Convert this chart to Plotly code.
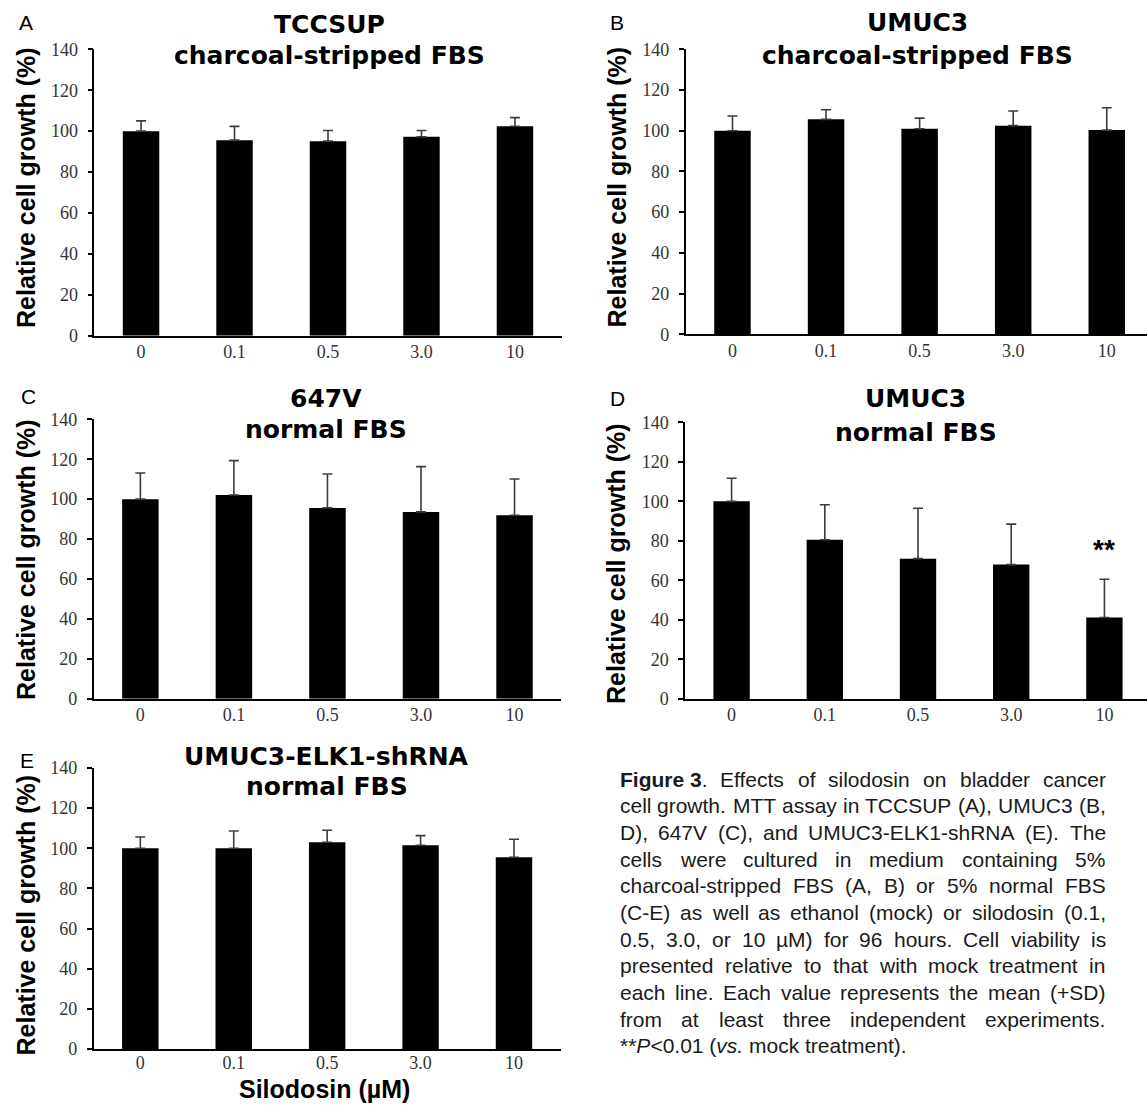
import plotly.graph_objects as go

W, H = 1147, 1106

# ---------------- data ----------------
doses = ["0", "0.1", "0.5", "3.0", "10"]

mean_tccsup_cs = [100.0, 95.6, 95.1, 97.2, 102.4]
sd_tccsup_cs = [5.0, 6.7, 5.2, 3.1, 4.2]

mean_umuc3_cs = [100.0, 105.6, 101.0, 102.5, 100.3]
sd_umuc3_cs = [7.2, 4.7, 5.2, 7.2, 11.0]

mean_647v_n = [100.0, 102.1, 95.6, 93.6, 91.9]
sd_647v_n = [13.1, 17.2, 17.0, 22.7, 18.2]

mean_umuc3_n = [100.0, 80.6, 71.0, 68.0, 41.2]
sd_umuc3_n = [11.7, 17.7, 25.5, 20.5, 19.4]

mean_elk1_n = [100.0, 100.0, 103.0, 101.5, 95.5]
sd_elk1_n = [5.6, 8.6, 6.0, 4.8, 9.0]

titles_line1 = ["TCCSUP", "UMUC3", "647V", "UMUC3", "UMUC3-ELK1-shRNA"]
titles_line2 = ["charcoal-stripped FBS", "charcoal-stripped FBS", "normal FBS",
                "normal FBS", "normal FBS"]
letters = ["A", "B", "C", "D", "E"]
y_title = "Relative cell growth (%)"
x_title = "Silodosin (µM)"
sig_label = "**"
sig_index = 4
sig_value = 75.5

caption_lines = [
    "<b>Figure 3</b>. Effects of silodosin on bladder cancer",
    "cell growth. MTT assay in TCCSUP (A), UMUC3 (B,",
    "D), 647V (C), and UMUC3-ELK1-shRNA (E). The",
    "cells were cultured in medium containing 5%",
    "charcoal-stripped FBS (A, B) or 5% normal FBS",
    "(C-E) as well as ethanol (mock) or silodosin (0.1,",
    "0.5, 3.0, or 10 µM) for 96 hours. Cell viability is",
    "presented relative to that with mock treatment in",
    "each line. Each value represents the mean (+SD)",
    "from at least three independent experiments.",
    "**<i>P</i>&lt;0.01 (<i>vs.</i> mock treatment).",
]

means = [mean_tccsup_cs, mean_umuc3_cs, mean_647v_n, mean_umuc3_n, mean_elk1_n]
sds = [sd_tccsup_cs, sd_umuc3_cs, sd_647v_n, sd_umuc3_n, sd_elk1_n]

# ---------------- layout geometry (pixels) ----------------
panels = [
    dict(x0=94.3, x1=561.7, ytop=49.3, ybot=335.7, xr=4.5, xso=-1,
         t1=(329.5, 24.0), t2=(329.5, 55.5), let=(26, 22.5), yl=(26, 188)),
    dict(x0=685.7, x1=1147.0, ytop=49.3, ybot=334.3, xr=4.43, xso=-1,
         t1=(917.0, 22.5), t2=(917.0, 55.0), let=(617, 22.5), yl=(616, 187.5)),
    dict(x0=93.6, x1=561.3, ytop=419.3, ybot=698.7, xr=4.5, xso=-1,
         t1=(325.5, 398.7), t2=(325.5, 429.2), let=(28.6, 396.7), yl=(26, 560)),
    dict(x0=685.0, x1=1147.0, ytop=422.3, ybot=699.0, xr=4.457, xso=-1,
         t1=(915.7, 399.0), t2=(915.7, 432.0), let=(617, 398.3), yl=(616, 564)),
    dict(x0=93.6, x1=560.7, ytop=768.0, ybot=1049.0, xr=4.5, xso=-3,
         t1=(326.8, 756.7), t2=(326.8, 786.7), let=(26.8, 760.8), yl=(25.5, 915)),
]

TITLE_FONT = dict(family="DejaVu Sans", size=25, color="black")
YLAB_FONT = dict(family="Liberation Sans", size=25, color="black")
TICK_FONT = dict(family="Liberation Serif", size=18, color="#333333")
LET_FONT = dict(family="Liberation Sans", size=21, color="black")
CAP_FONT_SIZE = 21

fig = go.Figure()
layout = dict(width=W, height=H,
              margin=dict(l=0, r=0, t=0, b=0, pad=0, autoexpand=False),
              paper_bgcolor="white", plot_bgcolor="white", showlegend=False)
annotations = []


def px(x):
    return x / W


def py(y):
    return 1 - y / H


def ann(x, y, text, font, **kw):
    d = dict(x=px(x), y=py(y), xref="paper", yref="paper", text=text,
             showarrow=False, font=font, xanchor="center", yanchor="middle")
    d.update(kw)
    annotations.append(d)


for i, p in enumerate(panels):
    sfx = "" if i == 0 else str(i + 1)
    fig.add_trace(go.Bar(
        x=doses, y=means[i], width=0.39,
        marker=dict(color="black", line=dict(width=0)),
        error_y=dict(type="data", symmetric=False, array=sds[i],
                     arrayminus=[0] * len(sds[i]),
                     color="#3c3c3c", thickness=1.6, width=5),
        xaxis="x" + sfx, yaxis="y" + sfx, hoverinfo="x+y"))
    layout["xaxis" + sfx] = dict(
        domain=[px(p["x0"]), px(p["x1"])], anchor="y" + sfx,
        type="category", range=[-0.5, p["xr"]], automargin=False,
        showline=True, linecolor="black", linewidth=1.5,
        ticks="", showgrid=False, zeroline=False,
        tickfont=TICK_FONT, ticklabelstandoff=p["xso"])
    layout["yaxis" + sfx] = dict(
        domain=[py(p["ybot"]), py(p["ytop"])], anchor="x" + sfx,
        range=[0, 140], tick0=0, dtick=20, automargin=False,
        showline=True, linecolor="black", linewidth=1.5,
        ticks="outside", ticklen=5, tickwidth=1.5, tickcolor="black",
        showgrid=False, zeroline=False, tickfont=TICK_FONT,
        ticklabelstandoff=6)
    ann(*p["t1"], "<b>%s</b>" % titles_line1[i], TITLE_FONT)
    ann(*p["t2"], "<b>%s</b>" % titles_line2[i], TITLE_FONT)
    ann(*p["let"], letters[i], LET_FONT)
    ann(*p["yl"], "<b>%s</b>" % y_title, YLAB_FONT, textangle=-90)

# significance mark on panel D
annotations.append(dict(x=sig_index, y=sig_value, xref="x4", yref="y4",
                        text="<b>%s</b>" % sig_label, showarrow=False,
                        font=dict(family="Liberation Sans", size=28, color="black"),
                        xanchor="center", yanchor="middle"))

# x title under panel E
ann(324.6, 1089.0, "<b>%s</b>" % x_title, YLAB_FONT)

# ---------------- caption with justification ----------------
REG = {' ': 278, '%': 889, '(': 333, ')': 333, '*': 389, '+': 584, ',': 278,
       '-': 333, '.': 278, '<': 584, 'µ': 556,
       'A': 667, 'B': 667, 'C': 722, 'D': 722, 'E': 667, 'F': 611, 'G': 778,
       'H': 722, 'I': 278, 'J': 500, 'K': 667, 'L': 556, 'M': 833, 'N': 722,
       'O': 778, 'P': 667, 'Q': 778, 'R': 722, 'S': 667, 'T': 611, 'U': 722,
       'V': 667, 'W': 944, 'X': 667, 'Y': 667, 'Z': 611,
       'a': 556, 'b': 556, 'c': 500, 'd': 556, 'e': 556, 'f': 278, 'g': 556,
       'h': 556, 'i': 222, 'j': 222, 'k': 500, 'l': 222, 'm': 833, 'n': 556,
       'o': 556, 'p': 556, 'q': 556, 'r': 333, 's': 500, 't': 278, 'u': 556,
       'v': 500, 'w': 722, 'x': 500, 'y': 500, 'z': 500}
for d in "0123456789":
    REG[d] = 556
BOLD = dict(REG)
BOLD.update({'i': 278, 'g': 611, 'u': 611, 'r': 389})


def width(s, size):
    import re
    total = 0
    bold = False
    for part in re.split(r"(<[^>]+>)", s):
        if part == "<b>":
            bold = True
            continue
        if part == "</b>":
            bold = False
            continue
        if part.startswith("<"):
            continue
        tbl = BOLD if bold else REG
        for ch in part.replace("&lt;", "<"):
            total += tbl.get(ch, 556)
    return total * size / 1000.0


CAP_LEFT, CAP_RIGHT = 617.8, 1103.7
CAP_Y0, CAP_DY = 779.0, 26.67
CAP_FONT = dict(family="Liberation Sans", size=CAP_FONT_SIZE, color="#1a1a1a")

for k, line in enumerate(caption_lines):
    yy = CAP_Y0 + k * CAP_DY
    if k == len(caption_lines) - 1:
        ann(CAP_LEFT, yy, line, CAP_FONT, xanchor="left")
        continue
    words = line.split(" ")
    merged = []
    buf = ""
    for w in words:
        buf = w if not buf else buf + " " + w
        if buf.count("<b>") == buf.count("</b>") and buf.count("<i>") == buf.count("</i>"):
            merged.append(buf)
            buf = ""
    if buf:
        merged.append(buf)
    ws = [width(w, CAP_FONT_SIZE) for w in merged]
    gap = (CAP_RIGHT - CAP_LEFT - sum(ws)) / max(1, len(merged) - 1)
    x = CAP_LEFT
    for w, wd in zip(merged, ws):
        ann(x, yy, w, CAP_FONT, xanchor="left")
        x += wd + gap

layout["annotations"] = annotations
fig.update_layout(**layout)
fig.write_html(
    "out.html",
    config={"displayModeBar": False},
    post_script="document.body.style.margin='0';document.body.style.overflow='hidden';",
)
